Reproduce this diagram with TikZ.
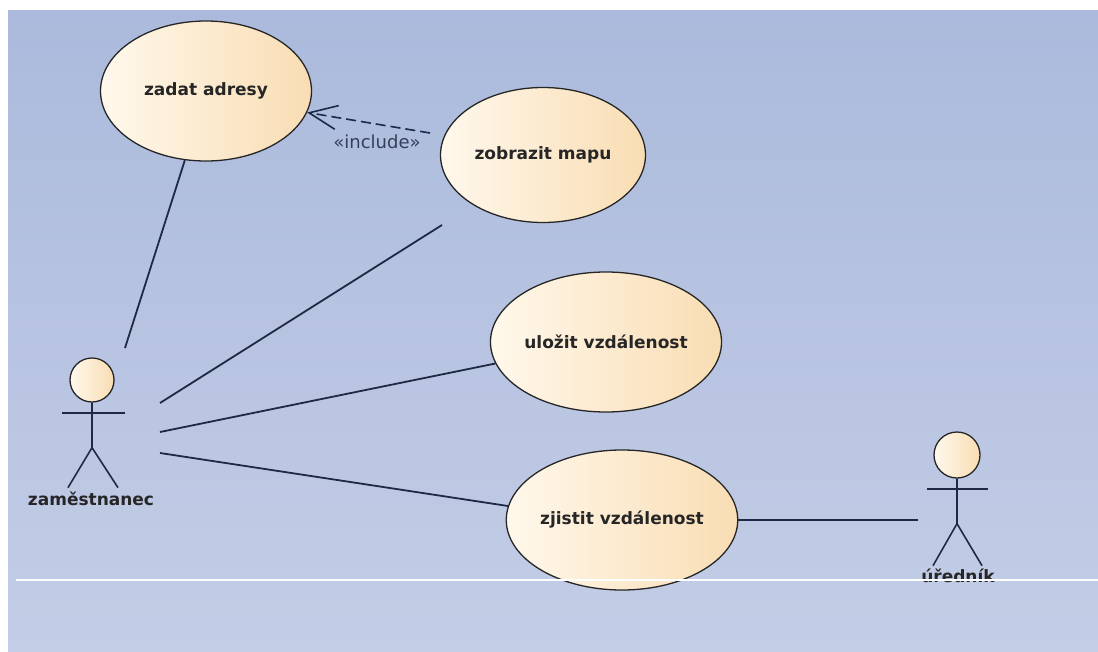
\documentclass[tikz,border=0pt]{standalone}
\usepackage{fontspec}
\setmainfont{DejaVu Sans}
\usepackage{xcolor}
\usepackage{tikz}
\usetikzlibrary{shapes.geometric,arrows.meta}

\definecolor{bgtop}{HTML}{ABBADC}
\definecolor{bgbot}{HTML}{C3CDE6}
\definecolor{caseL}{HTML}{FFF8EC}
\definecolor{caseR}{HTML}{F9DDB3}
\definecolor{ink}{HTML}{1E2A45}

\begin{document}
\begin{tikzpicture}[x=1pt,y=-1pt,
    usecase/.style={ellipse,draw=black!85,line width=1.3pt,left color=caseL,right color=caseR,
      inner sep=0pt,minimum width=211pt,minimum height=140pt,
      font=\fontsize{17}{20}\selectfont\bfseries,text=black!85},
    head/.style={circle,draw=black!85,line width=1.3pt,inner sep=0pt,minimum size=44pt,
      left color=caseL,right color=caseR},
    stick/.style={ink,line width=1.6pt},
    assoc/.style={ink,line width=1.8pt},
    include/.style={ink,line width=1.6pt,dash pattern=on 10pt off 5pt,
      -{Straight Barb[length=28pt,width=24pt,line width=1.6pt]}},
    actorname/.style={font=\fontsize{17}{20}\selectfont\bfseries,text=black!85,inner sep=0pt,anchor=base}]

    \useasboundingbox (0,0) rectangle (1098,651);
    \shade[top color=bgtop,bottom color=bgbot] (8,10) rectangle (1098,651);
          % Background of the diagram

    \node[usecase] (adresy) at (206,91) {zadat adresy};
    \node[usecase,minimum width=205pt,minimum height=135pt] (mapa) at (543,155) {zobrazit mapu};
    \node[usecase] (ulozit) at (606,342) {uložit vzdálenost};
    \node[usecase] (zjistit) at (622,520) {zjistit vzdálenost};

    % zaměstnanec
    \node[head] (hlava1) at (92,380) {};
    \draw[stick] (hlava1.south) -- ++(0,45) coordinate (kycel1) -- ++(-24,40);
    \draw[stick] (kycel1) -- ++(26,40);
    \draw[stick] (62,413) -- (125,413);
    \node[actorname] (zam) at (91,505) {zaměstnanec};

    % úředník
    \node[head,minimum size=46pt] (hlava2) at (957,455) {};
    \draw[stick] (hlava2.south) -- ++(0,45) coordinate (kycel2) -- ++(-24,42);
    \draw[stick] (kycel2) -- ++(25,42);
    \draw[stick] (927,489) -- (988,489);
    \node[actorname] (ured) at (958,582) {úředník};

    % free ends of the associations
    \coordinate (zamA) at (125,348);
    \coordinate (zamB) at (160,403);
    \coordinate (zamC) at (160,432);
    \coordinate (zamD) at (160,453);
    \coordinate (urA) at (918,520);
    \coordinate (mapaKonec) at ([shift={(-101,70)}]mapa.center);
    \coordinate (mapaInc) at ([shift={(-113,-22)}]mapa.center);

    \draw[assoc] (adresy.253) -- (zamA);
    \draw[assoc] (mapaKonec) -- (zamB);
    \draw[assoc] (ulozit.191) -- (zamC);
    \draw[assoc] (zjistit.173) -- (zamD);
    \draw[assoc] (zjistit.east) -- (urA);

    \draw[include] (mapaInc) -- (adresy.-12);
    \node[font=\fontsize{18}{21}\selectfont,text=ink!90,inner sep=0pt] (incl) at (377,142) {«include»};

    \draw[white,line width=1.5pt] (16,580) -- (1098,580);
          % the light line across the bottom
\end{tikzpicture}
\end{document}
